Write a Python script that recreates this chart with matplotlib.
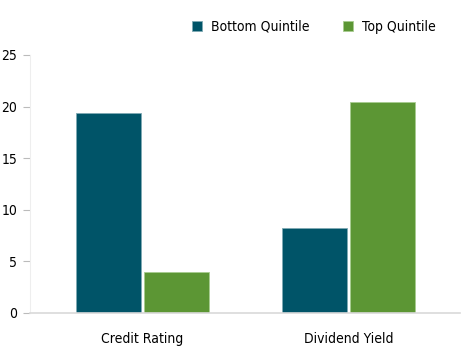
import numpy as np
import matplotlib.pyplot as plt

plt.rcParams['font.family'] = ['DejaVu Sans']
plt.rcParams['font.stretch'] = 'condensed'

categories = ["Credit Rating", "Dividend Yield"]
series = ["Bottom Quintile", "Top Quintile"]
bottom_q = [19.4, 8.2]
top_q = [4.0, 20.4]
colors = ["#005468", "#5c9634"]

fig = plt.figure(figsize=(4.68, 3.64), dpi=100)
ax = fig.add_axes([30/468, 1-313/364, 430/468, 258/364])

x = np.arange(len(categories))
w = 0.316
off = w/2 + 0.0075
ax.bar(x - off, bottom_q, w, color=colors[0], edgecolor="#7fa9b3", linewidth=0.6, label=series[0])
ax.bar(x + off, top_q, w, color=colors[1], edgecolor="#a8cc90", linewidth=0.6, label=series[1])

ax.set_xlim(-0.546, 0.541 + 1)
ax.set_ylim(0, 25)
ax.set_yticks([0, 5, 10, 15, 20, 25])
ax.set_xticks(x)
ax.set_xticklabels(categories)

for s in ["top", "right"]:
    ax.spines[s].set_visible(False)
ax.spines["left"].set_color("#eeeeee")
ax.spines["bottom"].set_color("#d9d9d9")
ax.spines["bottom"].set_linewidth(1.2)
ax.tick_params(axis="y", length=5, color="#bbbbbb", labelsize=10, pad=4)
ax.tick_params(axis="x", length=0, labelsize=10, pad=14)

ax.legend(loc="upper center", bbox_to_anchor=(314/468, 1 - 7/364), bbox_transform=fig.transFigure,
          ncol=2, frameon=False, fontsize=10, handlelength=0.7, handleheight=0.7,
          columnspacing=2.4, handletextpad=0.65)

fig.savefig("out.png", dpi=100)
